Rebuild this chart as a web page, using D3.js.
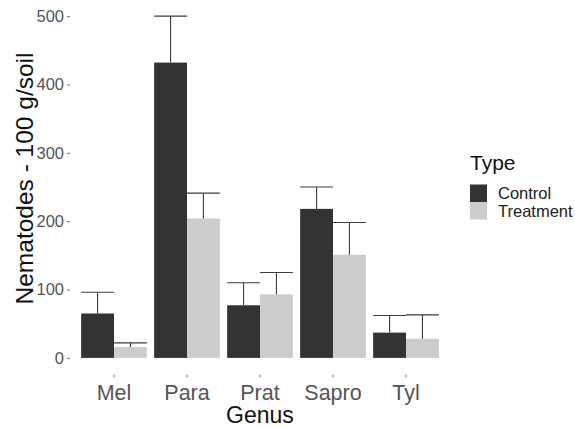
<!DOCTYPE html>
<html>
<head>
<meta charset="UTF-8">
<script src="https://d3js.org/d3.v7.min.js"></script>
<style>
body { margin: 0; background: white; font-family: "Liberation Sans", Arial, sans-serif; }
</style>
</head>
<body>
<svg width="575" height="427"></svg>
<script>
// data
const genus = ["Mel", "Para", "Prat", "Sapro", "Tyl"];
const types = ["Control", "Treatment"];
const controlMean = [65, 432, 77, 218, 37];
const controlUpper = [96, 500, 110, 250, 62];
const treatmentMean = [16, 204, 93, 151, 28];
const treatmentUpper = [22, 241, 125, 198, 63];
const yTicks = [0, 100, 200, 300, 400, 500];

const colors = { Control: "#333333", Treatment: "#cccccc" };

const rows = [];
genus.forEach(function(g, i) {
  rows.push({ genus: g, type: "Control", mean: controlMean[i], upper: controlUpper[i] });
  rows.push({ genus: g, type: "Treatment", mean: treatmentMean[i], upper: treatmentUpper[i] });
});

const svg = d3.select("svg");

const y = d3.scaleLinear().domain([-25, 525]).range([375, -1]);

const x = d3.scaleBand()
  .domain(genus)
  .range([77.5, 442.5])
  .paddingInner(0.1)
  .paddingOuter(0.05);

const xSub = d3.scaleBand().domain(types).range([0, x.bandwidth()]);

const g = svg.append("g");

// bars
g.selectAll(".bar")
  .data(rows)
  .join("rect")
  .attr("class", "bar")
  .attr("x", d => x(d.genus) + xSub(d.type))
  .attr("width", xSub.bandwidth())
  .attr("y", d => y(d.mean))
  .attr("height", d => y(0) - y(d.mean))
  .style("fill", d => colors[d.type]);

// error bars (upper half only)
const err = g.selectAll(".err")
  .data(rows)
  .join("g")
  .attr("class", "err")
  .style("stroke", "#3d3d3d")
  .style("stroke-width", 1.1);

err.append("line")
  .attr("x1", d => x(d.genus) + xSub(d.type) + xSub.bandwidth() / 2)
  .attr("x2", d => x(d.genus) + xSub(d.type) + xSub.bandwidth() / 2)
  .attr("y1", d => y(d.mean))
  .attr("y2", d => y(d.upper));

err.append("line")
  .attr("x1", d => x(d.genus) + xSub(d.type))
  .attr("x2", d => x(d.genus) + xSub(d.type) + xSub.bandwidth())
  .attr("y1", d => y(d.upper))
  .attr("y2", d => y(d.upper));

// y axis
const yAxis = svg.append("g")
  .attr("transform", "translate(70,0)")
  .call(d3.axisLeft(y).tickValues(yTicks).tickSize(3).tickPadding(3));
yAxis.select(".domain").remove();
yAxis.selectAll(".tick line").style("stroke", "#777");
yAxis.selectAll(".tick text")
  .style("font-family", "'Liberation Sans', Arial, sans-serif")
  .style("font-size", "16.5px")
  .style("fill", "#555");

// x axis
const xAxis = svg.append("g")
  .attr("transform", "translate(0,374.5)")
  .call(d3.axisBottom(x).tickSize(3).tickPadding(4));
xAxis.select(".domain").remove();
xAxis.selectAll(".tick line").style("stroke", "#777");
xAxis.selectAll(".tick text")
  .attr("dy", null)
  .attr("y", 25)
  .style("font-family", "'Liberation Sans', Arial, sans-serif")
  .style("font-size", "21.5px")
  .style("fill", "#555");

// axis titles
svg.append("text")
  .attr("x", 260)
  .attr("y", 422.5)
  .attr("text-anchor", "middle")
  .style("font-size", "23px")
  .style("fill", "#111")
  .text("Genus");

svg.append("text")
  .attr("transform", "translate(33,178.5) rotate(-90)")
  .attr("text-anchor", "middle")
  .style("font-size", "24.5px")
  .style("fill", "#111")
  .text("Nematodes - 100 g/soil");

// legend
const legend = svg.append("g").attr("transform", "translate(470,0)");
legend.append("text")
  .attr("x", 0)
  .attr("y", 170)
  .style("font-size", "21px")
  .style("fill", "#111")
  .text("Type");

const keys = legend.selectAll(".key")
  .data(types)
  .join("g")
  .attr("class", "key")
  .attr("transform", (d, i) => "translate(0," + (184.5 + i * 17.5) + ")");

keys.append("rect")
  .attr("width", 17)
  .attr("height", 17.5)
  .style("fill", d => colors[d]);

keys.append("text")
  .attr("x", 28)
  .attr("y", 9)
  .attr("dy", "0.35em")
  .style("font-size", "16.5px")
  .style("fill", "#222")
  .text(d => d);
</script>
</body>
</html>
